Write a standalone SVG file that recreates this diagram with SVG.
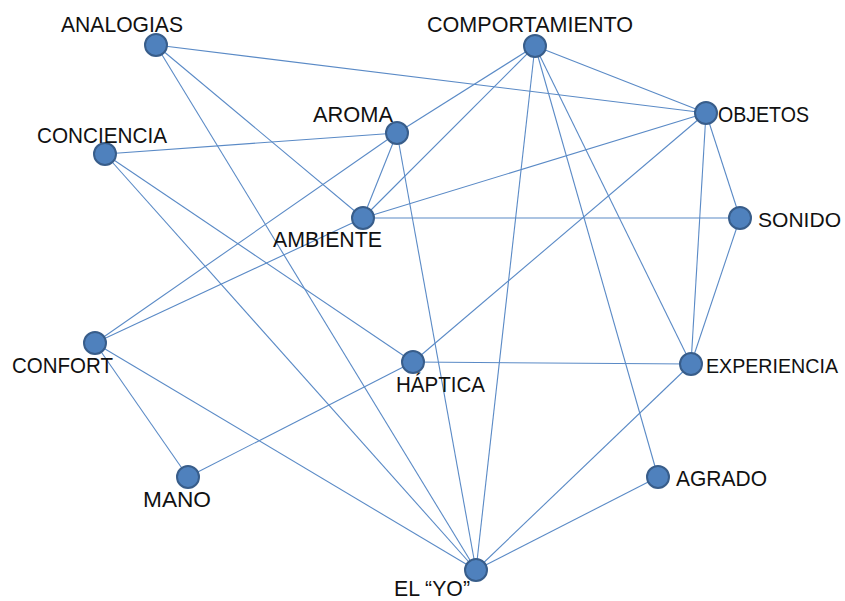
<svg xmlns="http://www.w3.org/2000/svg" width="845" height="601" viewBox="0 0 845 601">
  <style>
    .edge { stroke: #5A8AC6; stroke-width: 1.1; fill: none; }
    .node circle { fill: #4F81BD; stroke: #385D8A; stroke-width: 2; }
    .node text { font-family: "Liberation Sans", Arial, sans-serif; font-size: 22px; fill: #111; }
    .node text.edge-side { font-size: 20px; }
  </style>
  <rect width="845" height="601" fill="#ffffff"/>

  <g id="connectors">
    <line class="edge" x1="156" y1="45" x2="706" y2="113"/>
    <line class="edge" x1="156" y1="45" x2="363" y2="218"/>
    <line class="edge" x1="156" y1="45" x2="476" y2="570"/>
    <line class="edge" x1="535" y1="46" x2="397" y2="133"/>
    <line class="edge" x1="535" y1="46" x2="363" y2="218"/>
    <line class="edge" x1="535" y1="46" x2="706" y2="113"/>
    <line class="edge" x1="535" y1="46" x2="476" y2="570"/>
    <line class="edge" x1="535" y1="46" x2="691" y2="364"/>
    <line class="edge" x1="535" y1="46" x2="658" y2="477"/>
    <line class="edge" x1="105" y1="154" x2="397" y2="133"/>
    <line class="edge" x1="105" y1="154" x2="413" y2="362"/>
    <line class="edge" x1="105" y1="154" x2="476" y2="570"/>
    <line class="edge" x1="397" y1="133" x2="363" y2="218"/>
    <line class="edge" x1="397" y1="133" x2="95" y2="343"/>
    <line class="edge" x1="397" y1="133" x2="476" y2="570"/>
    <line class="edge" x1="363" y1="218" x2="740" y2="218"/>
    <line class="edge" x1="363" y1="218" x2="706" y2="113"/>
    <line class="edge" x1="363" y1="218" x2="95" y2="343"/>
    <line class="edge" x1="706" y1="113" x2="413" y2="362"/>
    <line class="edge" x1="706" y1="113" x2="740" y2="218"/>
    <line class="edge" x1="706" y1="113" x2="691" y2="364"/>
    <line class="edge" x1="740" y1="218" x2="691" y2="364"/>
    <line class="edge" x1="413" y1="362" x2="691" y2="364"/>
    <line class="edge" x1="413" y1="362" x2="188" y2="477"/>
    <line class="edge" x1="95" y1="343" x2="188" y2="477"/>
    <line class="edge" x1="95" y1="343" x2="476" y2="570"/>
    <line class="edge" x1="691" y1="364" x2="476" y2="570"/>
    <line class="edge" x1="658" y1="477" x2="476" y2="570"/>
  </g>

  <g id="analogias" class="node">
    <circle cx="156" cy="45" r="11"/>
    <text x="61" y="32" textLength="122" lengthAdjust="spacingAndGlyphs">ANALOGIAS</text>
  </g>
  <g id="comportamiento" class="node">
    <circle cx="535" cy="46" r="11"/>
    <text x="427" y="32" textLength="206" lengthAdjust="spacingAndGlyphs">COMPORTAMIENTO</text>
  </g>
  <g id="objetos" class="node">
    <circle cx="706" cy="113" r="11"/>
    <text x="718" y="122" textLength="91" lengthAdjust="spacingAndGlyphs">OBJETOS</text>
  </g>
  <g id="aroma" class="node">
    <circle cx="397" cy="133" r="11"/>
    <text x="313" y="122" textLength="80" lengthAdjust="spacingAndGlyphs">AROMA</text>
  </g>
  <g id="conciencia" class="node">
    <circle cx="105" cy="154" r="11"/>
    <text x="37" y="143" textLength="130" lengthAdjust="spacingAndGlyphs">CONCIENCIA</text>
  </g>
  <g id="ambiente" class="node">
    <circle cx="363" cy="218" r="11"/>
    <text x="273" y="247" textLength="109" lengthAdjust="spacingAndGlyphs">AMBIENTE</text>
  </g>
  <g id="sonido" class="node">
    <circle cx="740" cy="218" r="11"/>
    <text class="edge-side" x="758" y="227" textLength="83" lengthAdjust="spacingAndGlyphs">SONIDO</text>
  </g>
  <g id="confort" class="node">
    <circle cx="95" cy="343" r="11"/>
    <text x="12" y="373" textLength="101" lengthAdjust="spacingAndGlyphs">CONFORT</text>
  </g>
  <g id="haptica" class="node">
    <circle cx="413" cy="362" r="11"/>
    <text x="396" y="392" textLength="89" lengthAdjust="spacingAndGlyphs">HÁPTICA</text>
  </g>
  <g id="experiencia" class="node">
    <circle cx="691" cy="364" r="11"/>
    <text class="edge-side" x="706" y="373" textLength="132" lengthAdjust="spacingAndGlyphs">EXPERIENCIA</text>
  </g>
  <g id="mano" class="node">
    <circle cx="188" cy="477" r="11"/>
    <text x="143" y="507" textLength="68" lengthAdjust="spacingAndGlyphs">MANO</text>
  </g>
  <g id="agrado" class="node">
    <circle cx="658" cy="477" r="11"/>
    <text x="676" y="486" textLength="91" lengthAdjust="spacingAndGlyphs">AGRADO</text>
  </g>
  <g id="el-yo" class="node">
    <circle cx="476" cy="570" r="11"/>
    <text x="394" y="596" textLength="76" lengthAdjust="spacingAndGlyphs">EL “YO”</text>
  </g>
</svg>
